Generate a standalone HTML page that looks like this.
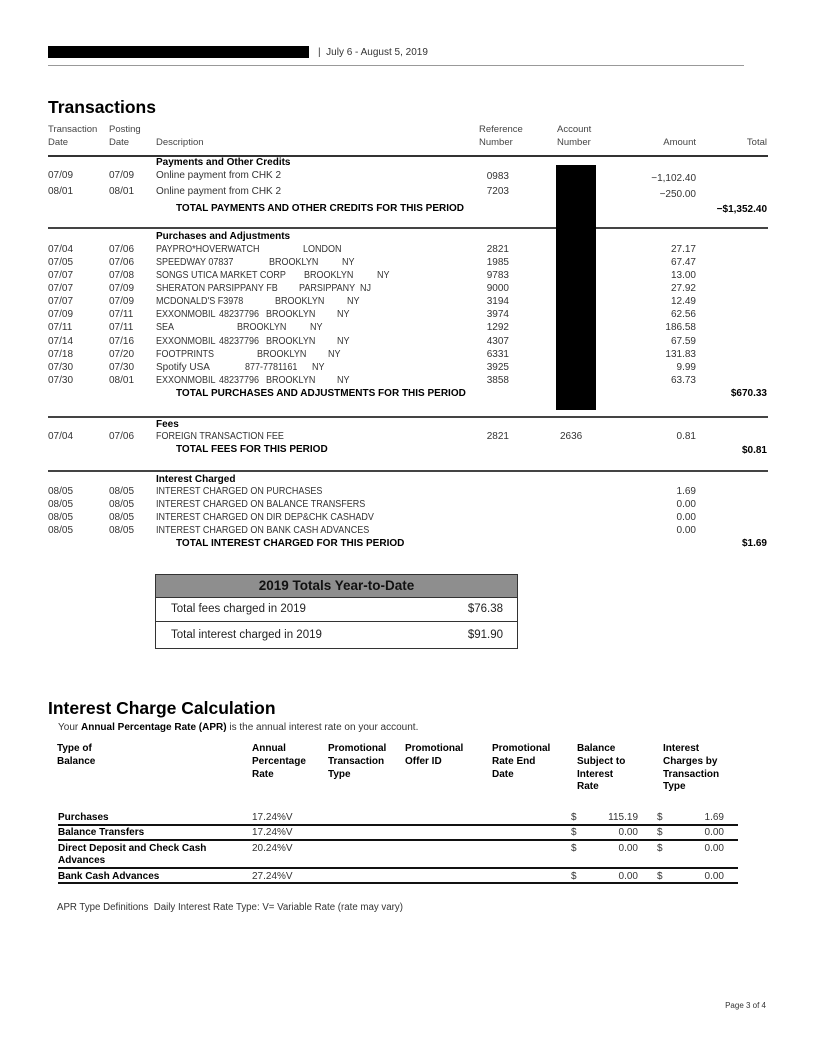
<!DOCTYPE html>
<html><head><meta charset="utf-8">
<style>
html,body{margin:0;padding:0;background:#fff;}
body{width:816px;height:1056px;position:relative;overflow:hidden;font-family:"Liberation Sans",Arial,sans-serif;}
div{position:absolute;white-space:pre;}
.r{font-size:10px;line-height:12px;color:#333;}
.u{font-size:10px;line-height:12px;color:#333;transform:scaleX(0.9);transform-origin:0 50%;}
.b{font-size:10px;line-height:12px;color:#000;font-weight:bold;}
.h{font-size:9.5px;line-height:12px;color:#444;}
.ln{height:2px;background:#444;left:48px;width:720px;}
</style></head><body>

<!-- header -->
<div style="left:48px;top:46px;width:261px;height:12px;background:#000;"></div>
<div class="r" style="left:318px;top:47px;">|  July 6 - August 5, 2019</div>
<div style="left:48px;top:65px;width:696px;height:1px;background:#999;"></div>

<div style="left:48px;top:97px;font-size:17.5px;line-height:20px;font-weight:bold;color:#000;">Transactions</div>

<div class="h" style="left:48px;top:124px;">Transaction</div>
<div class="h" style="left:48px;top:137px;">Date</div>
<div class="h" style="left:109px;top:124px;">Posting</div>
<div class="h" style="left:109px;top:137px;">Date</div>
<div class="h" style="left:156px;top:137px;">Description</div>
<div class="h" style="left:479px;top:124px;">Reference</div>
<div class="h" style="left:479px;top:137px;">Number</div>
<div class="h" style="left:557px;top:124px;">Account</div>
<div class="h" style="left:557px;top:137px;">Number</div>
<div class="h" style="right:120px;top:137px;">Amount</div>
<div class="h" style="right:49px;top:137px;">Total</div>
<div class="ln" style="top:155px;background:#333;"></div>

<!-- payments -->
<div class="b" style="left:156px;top:157px;">Payments and Other Credits</div>
<div class="r" style="left:48px;top:170px;">07/09</div>
<div class="r" style="left:109px;top:170px;">07/09</div>
<div class="r" style="left:156px;top:170px;">Online payment from CHK 2</div>
<div class="r" style="right:307px;top:171px;">0983</div>
<div class="r" style="right:120px;top:173px;">−1,102.40</div>
<div class="r" style="left:48px;top:186px;">08/01</div>
<div class="r" style="left:109px;top:186px;">08/01</div>
<div class="r" style="left:156px;top:186px;">Online payment from CHK 2</div>
<div class="r" style="right:307px;top:186px;">7203</div>
<div class="r" style="right:120px;top:189px;">−250.00</div>
<div class="b" style="left:176px;top:203px;">TOTAL PAYMENTS AND OTHER CREDITS FOR THIS PERIOD</div>
<div class="b" style="right:49px;top:204px;">−$1,352.40</div>
<div class="ln" style="top:227px;"></div>

<!-- purchases -->
<div class="b" style="left:156px;top:231px;">Purchases and Adjustments</div>

<div class="r" style="left:48px;top:244px;">07/04</div><div class="r" style="left:109px;top:244px;">07/06</div>
<div class="u" style="left:156px;top:244px;">PAYPRO*HOVERWATCH</div><div class="u" style="left:303px;top:244px;">LONDON</div>
<div class="r" style="right:307px;top:244px;">2821</div><div class="r" style="right:120px;top:244px;">27.17</div>

<div class="r" style="left:48px;top:257px;">07/05</div><div class="r" style="left:109px;top:257px;">07/06</div>
<div class="u" style="left:156px;top:257px;">SPEEDWAY 07837</div><div class="u" style="left:269px;top:257px;">BROOKLYN</div><div class="u" style="left:342px;top:257px;">NY</div>
<div class="r" style="right:307px;top:257px;">1985</div><div class="r" style="right:120px;top:257px;">67.47</div>

<div class="r" style="left:48px;top:270px;">07/07</div><div class="r" style="left:109px;top:270px;">07/08</div>
<div class="u" style="left:156px;top:270px;">SONGS UTICA MARKET CORP</div><div class="u" style="left:304px;top:270px;">BROOKLYN</div><div class="u" style="left:377px;top:270px;">NY</div>
<div class="r" style="right:307px;top:270px;">9783</div><div class="r" style="right:120px;top:270px;">13.00</div>

<div class="r" style="left:48px;top:283px;">07/07</div><div class="r" style="left:109px;top:283px;">07/09</div>
<div class="u" style="left:156px;top:283px;">SHERATON PARSIPPANY FB</div><div class="u" style="left:299px;top:283px;">PARSIPPANY</div><div class="u" style="left:360px;top:283px;">NJ</div>
<div class="r" style="right:307px;top:283px;">9000</div><div class="r" style="right:120px;top:283px;">27.92</div>

<div class="r" style="left:48px;top:296px;">07/07</div><div class="r" style="left:109px;top:296px;">07/09</div>
<div class="u" style="left:156px;top:296px;">MCDONALD'S F3978</div><div class="u" style="left:275px;top:296px;">BROOKLYN</div><div class="u" style="left:347px;top:296px;">NY</div>
<div class="r" style="right:307px;top:296px;">3194</div><div class="r" style="right:120px;top:296px;">12.49</div>

<div class="r" style="left:48px;top:309px;">07/09</div><div class="r" style="left:109px;top:309px;">07/11</div>
<div class="u" style="left:156px;top:309px;">EXXONMOBIL</div><div class="u" style="left:219px;top:309px;">48237796</div><div class="u" style="left:266px;top:309px;">BROOKLYN</div><div class="u" style="left:337px;top:309px;">NY</div>
<div class="r" style="right:307px;top:309px;">3974</div><div class="r" style="right:120px;top:309px;">62.56</div>

<div class="r" style="left:48px;top:322px;">07/11</div><div class="r" style="left:109px;top:322px;">07/11</div>
<div class="u" style="left:156px;top:322px;">SEA</div><div class="u" style="left:237px;top:322px;">BROOKLYN</div><div class="u" style="left:310px;top:322px;">NY</div>
<div class="r" style="right:307px;top:322px;">1292</div><div class="r" style="right:120px;top:322px;">186.58</div>

<div class="r" style="left:48px;top:336px;">07/14</div><div class="r" style="left:109px;top:336px;">07/16</div>
<div class="u" style="left:156px;top:336px;">EXXONMOBIL</div><div class="u" style="left:219px;top:336px;">48237796</div><div class="u" style="left:266px;top:336px;">BROOKLYN</div><div class="u" style="left:337px;top:336px;">NY</div>
<div class="r" style="right:307px;top:336px;">4307</div><div class="r" style="right:120px;top:336px;">67.59</div>

<div class="r" style="left:48px;top:349px;">07/18</div><div class="r" style="left:109px;top:349px;">07/20</div>
<div class="u" style="left:156px;top:349px;">FOOTPRINTS</div><div class="u" style="left:257px;top:349px;">BROOKLYN</div><div class="u" style="left:328px;top:349px;">NY</div>
<div class="r" style="right:307px;top:349px;">6331</div><div class="r" style="right:120px;top:349px;">131.83</div>

<div class="r" style="left:48px;top:362px;">07/30</div><div class="r" style="left:109px;top:362px;">07/30</div>
<div class="r" style="left:156px;top:362px;">Spotify USA</div><div class="u" style="left:245px;top:362px;">877-7781161</div><div class="u" style="left:312px;top:362px;">NY</div>
<div class="r" style="right:307px;top:362px;">3925</div><div class="r" style="right:120px;top:362px;">9.99</div>

<div class="r" style="left:48px;top:375px;">07/30</div><div class="r" style="left:109px;top:375px;">08/01</div>
<div class="u" style="left:156px;top:375px;">EXXONMOBIL</div><div class="u" style="left:219px;top:375px;">48237796</div><div class="u" style="left:266px;top:375px;">BROOKLYN</div><div class="u" style="left:337px;top:375px;">NY</div>
<div class="r" style="right:307px;top:375px;">3858</div><div class="r" style="right:120px;top:375px;">63.73</div>

<div class="b" style="left:176px;top:388px;">TOTAL PURCHASES AND ADJUSTMENTS FOR THIS PERIOD</div>
<div class="b" style="right:49px;top:388px;">$670.33</div>

<div style="left:556px;top:165px;width:40px;height:245px;background:#000;"></div>
<div class="ln" style="top:416px;"></div>

<!-- fees -->
<div class="b" style="left:156px;top:419px;">Fees</div>
<div class="r" style="left:48px;top:431px;">07/04</div><div class="r" style="left:109px;top:431px;">07/06</div>
<div class="u" style="left:156px;top:431px;">FOREIGN TRANSACTION FEE</div>
<div class="r" style="right:307px;top:431px;">2821</div>
<div class="r" style="left:560px;top:431px;">2636</div>
<div class="r" style="right:120px;top:431px;">0.81</div>
<div class="b" style="left:176px;top:444px;">TOTAL FEES FOR THIS PERIOD</div>
<div class="b" style="right:49px;top:445px;">$0.81</div>
<div class="ln" style="top:470px;"></div>

<!-- interest -->
<div class="b" style="left:156px;top:474px;">Interest Charged</div>
<div class="r" style="left:48px;top:486px;">08/05</div><div class="r" style="left:109px;top:486px;">08/05</div>
<div class="u" style="left:156px;top:486px;">INTEREST CHARGED ON PURCHASES</div><div class="r" style="right:120px;top:486px;">1.69</div>
<div class="r" style="left:48px;top:499px;">08/05</div><div class="r" style="left:109px;top:499px;">08/05</div>
<div class="u" style="left:156px;top:499px;">INTEREST CHARGED ON BALANCE TRANSFERS</div><div class="r" style="right:120px;top:499px;">0.00</div>
<div class="r" style="left:48px;top:512px;">08/05</div><div class="r" style="left:109px;top:512px;">08/05</div>
<div class="u" style="left:156px;top:512px;">INTEREST CHARGED ON DIR DEP&amp;CHK CASHADV</div><div class="r" style="right:120px;top:512px;">0.00</div>
<div class="r" style="left:48px;top:525px;">08/05</div><div class="r" style="left:109px;top:525px;">08/05</div>
<div class="u" style="left:156px;top:525px;">INTEREST CHARGED ON BANK CASH ADVANCES</div><div class="r" style="right:120px;top:525px;">0.00</div>
<div class="b" style="left:176px;top:538px;">TOTAL INTEREST CHARGED FOR THIS PERIOD</div>
<div class="b" style="right:49px;top:538px;">$1.69</div>

<!-- YTD box -->
<div style="left:155px;top:574px;width:361px;height:73px;border:1px solid #333;"></div>
<div style="left:156px;top:575px;width:361px;height:22px;background:#8e8e8e;border-bottom:1px solid #333;"></div>
<div style="left:156px;top:577px;width:361px;text-align:center;font-size:13.5px;line-height:18px;font-weight:bold;color:#111;">2019 Totals Year-to-Date</div>
<div style="left:156px;top:621px;width:361px;height:1px;background:#333;"></div>
<div style="left:171px;top:602px;font-size:11.5px;line-height:15px;color:#222;">Total fees charged in 2019</div>
<div style="right:313px;top:602px;font-size:11.5px;line-height:15px;color:#222;">$76.38</div>
<div style="left:171px;top:628px;font-size:11.5px;line-height:15px;color:#222;">Total interest charged in 2019</div>
<div style="right:313px;top:628px;font-size:11.5px;line-height:15px;color:#222;">$91.90</div>

<!-- Interest charge calculation -->
<div style="left:48px;top:698px;font-size:17.5px;line-height:20px;font-weight:bold;color:#000;">Interest Charge Calculation</div>
<div class="r" style="left:58px;top:722px;">Your <b style="color:#000">Annual Percentage Rate (APR)</b> is the annual interest rate on your account.</div>

<div class="b" style="left:57px;top:743px;">Type of</div>
<div class="b" style="left:57px;top:756px;">Balance</div>
<div class="b" style="left:252px;top:743px;">Annual</div>
<div class="b" style="left:252px;top:756px;">Percentage</div>
<div class="b" style="left:252px;top:769px;">Rate</div>
<div class="b" style="left:328px;top:743px;">Promotional</div>
<div class="b" style="left:328px;top:756px;">Transaction</div>
<div class="b" style="left:328px;top:769px;">Type</div>
<div class="b" style="left:405px;top:743px;">Promotional</div>
<div class="b" style="left:405px;top:756px;">Offer ID</div>
<div class="b" style="left:492px;top:743px;">Promotional</div>
<div class="b" style="left:492px;top:756px;">Rate End</div>
<div class="b" style="left:492px;top:769px;">Date</div>
<div class="b" style="left:577px;top:743px;">Balance</div>
<div class="b" style="left:577px;top:756px;">Subject to</div>
<div class="b" style="left:577px;top:769px;">Interest</div>
<div class="b" style="left:577px;top:781px;">Rate</div>
<div class="b" style="left:663px;top:743px;">Interest</div>
<div class="b" style="left:663px;top:756px;">Charges by</div>
<div class="b" style="left:663px;top:769px;">Transaction</div>
<div class="b" style="left:663px;top:781px;">Type</div>

<div class="b" style="left:58px;top:812px;">Purchases</div>
<div class="r" style="left:252px;top:812px;">17.24%V</div>
<div class="r" style="left:571px;top:812px;">$</div><div class="r" style="right:178px;top:812px;">115.19</div>
<div class="r" style="left:657px;top:812px;">$</div><div class="r" style="right:92px;top:812px;">1.69</div>
<div style="left:58px;top:824px;width:680px;height:2px;background:#111;"></div>

<div class="b" style="left:58px;top:827px;">Balance Transfers</div>
<div class="r" style="left:252px;top:827px;">17.24%V</div>
<div class="r" style="left:571px;top:827px;">$</div><div class="r" style="right:178px;top:827px;">0.00</div>
<div class="r" style="left:657px;top:827px;">$</div><div class="r" style="right:92px;top:827px;">0.00</div>
<div style="left:58px;top:839px;width:680px;height:2px;background:#111;"></div>

<div class="b" style="left:58px;top:843px;">Direct Deposit and Check Cash</div>
<div class="b" style="left:58px;top:855px;">Advances</div>
<div class="r" style="left:252px;top:843px;">20.24%V</div>
<div class="r" style="left:571px;top:843px;">$</div><div class="r" style="right:178px;top:843px;">0.00</div>
<div class="r" style="left:657px;top:843px;">$</div><div class="r" style="right:92px;top:843px;">0.00</div>
<div style="left:58px;top:867px;width:680px;height:2px;background:#111;"></div>

<div class="b" style="left:58px;top:871px;">Bank Cash Advances</div>
<div class="r" style="left:252px;top:871px;">27.24%V</div>
<div class="r" style="left:571px;top:871px;">$</div><div class="r" style="right:178px;top:871px;">0.00</div>
<div class="r" style="left:657px;top:871px;">$</div><div class="r" style="right:92px;top:871px;">0.00</div>
<div style="left:58px;top:882px;width:680px;height:2px;background:#111;"></div>

<div class="r" style="left:57px;top:902px;font-size:9.7px;">APR Type Definitions  Daily Interest Rate Type: V= Variable Rate (rate may vary)</div>

<div class="r" style="right:50px;top:1001px;font-size:8px;line-height:10px;">Page 3 of 4</div>

</body></html>
